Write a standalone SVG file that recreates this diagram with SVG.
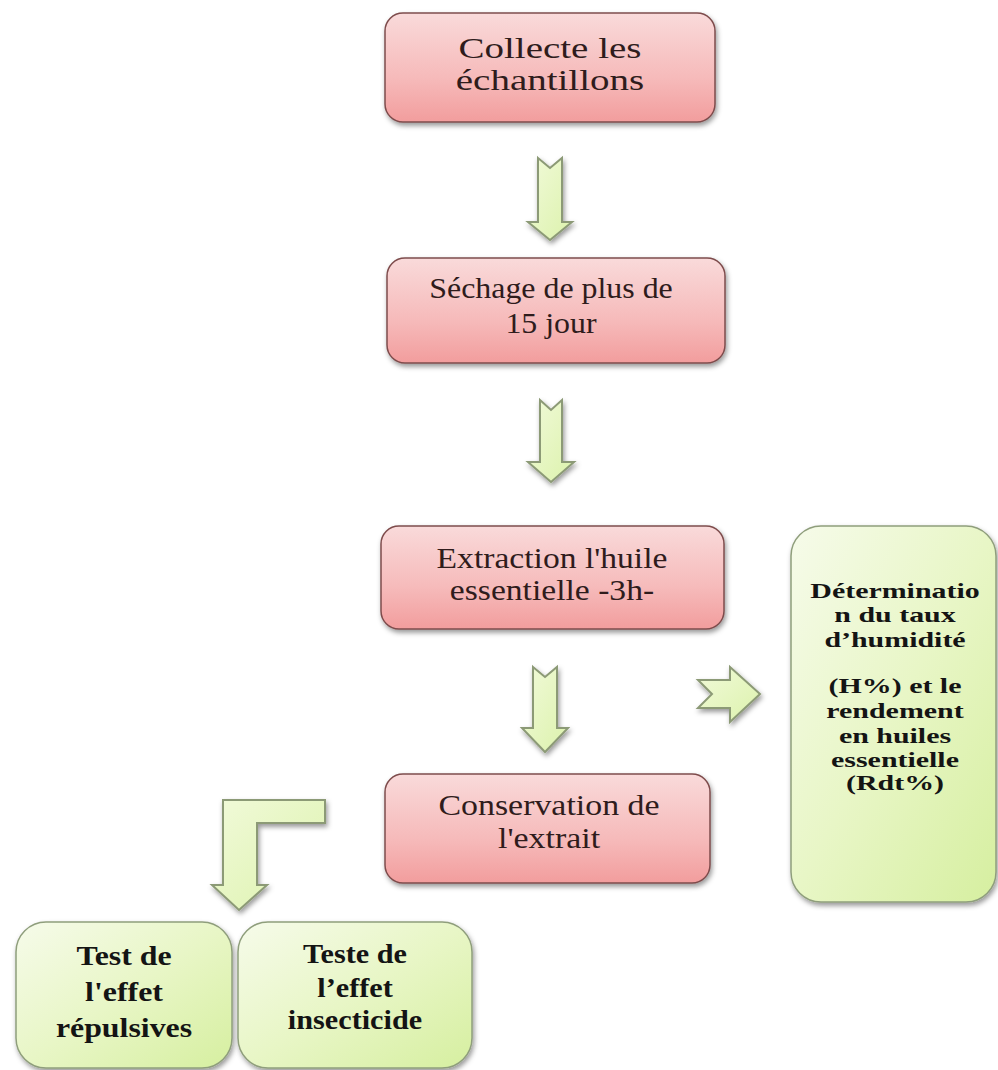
<svg xmlns="http://www.w3.org/2000/svg" width="998" height="1070" viewBox="0 0 998 1070">
<defs>
  <linearGradient id="redGrad" x1="0" y1="0" x2="0" y2="1">
    <stop offset="0" stop-color="#f9dada"/>
    <stop offset="0.6" stop-color="#f6baba"/>
    <stop offset="1" stop-color="#f29d9d"/>
  </linearGradient>
  <linearGradient id="greenGrad" x1="0" y1="0" x2="1" y2="1">
    <stop offset="0" stop-color="#f6fbea"/>
    <stop offset="0.5" stop-color="#e8f6c6"/>
    <stop offset="1" stop-color="#d6efa0"/>
  </linearGradient>
  <linearGradient id="arrowGrad" x1="0" y1="0" x2="1" y2="1">
    <stop offset="0" stop-color="#f1fad9"/>
    <stop offset="1" stop-color="#dcf2ac"/>
  </linearGradient>
  <filter id="shadow" x="-10%" y="-10%" width="130%" height="130%">
    <feDropShadow dx="1.5" dy="3" stdDeviation="2.5" flood-color="#000" flood-opacity="0.4"/>
  </filter>
  <style>
    .red { fill: url(#redGrad); stroke: #7e4c4c; stroke-width: 1.5; filter: url(#shadow); }
    .green { fill: url(#greenGrad); stroke: #8f9e7c; stroke-width: 1.5; filter: url(#shadow); }
    .arrow { fill: url(#arrowGrad); stroke: #8c9a76; stroke-width: 2; stroke-linejoin: miter; filter: url(#shadow); }
    .t { font-family: "Liberation Serif", "Times New Roman", serif; text-anchor: middle; fill: #2f1c1c; }
    .tr { font-size: 30px; }
    .tb { font-weight: bold; fill: #141414; }
  </style>
</defs>
<rect width="998" height="1070" fill="#ffffff"/>

<g id="connectors">
  <path class="arrow" d="M538,158 L550,168 L562,158 L562,222 L572,222 L550,240 L528,222 L538,222 Z"/>
  <path class="arrow" d="M540,400 L551,410 L562,400 L562,462 L574,462 L551,482 L528,462 L540,462 Z"/>
  <path class="arrow" d="M533,667 L545,677 L557,667 L557,728 L568,728 L545,752 L522,728 L533,728 Z"/>
  <path class="arrow" d="M698,680 L712,694 L698,708 L730,708 L730,722 L760,694 L730,667 L730,680 Z"/>
  <path class="arrow" d="M325,800 L325,823 L257,823 L257,885 L267,885 L239,910 L212,885 L223,885 L223,800 Z"/>
</g>

<g id="node-collecte">
  <rect class="red" x="385" y="13" width="330" height="109" rx="18"/>
  <g transform="translate(550,0) scale(1.3,1)">
    <text class="t tr" x="0" y="58">Collecte les</text>
    <text class="t tr" x="0" y="90">échantillons</text>
  </g>
</g>

<g id="node-sechage">
  <rect class="red" x="387" y="258" width="338" height="105" rx="18"/>
  <g transform="translate(551,0) scale(1.1,1)" font-size="29">
    <text class="t" x="0" y="298">Séchage de plus de</text>
    <text class="t" x="0" y="333">15 jour</text>
  </g>
</g>

<g id="node-extraction">
  <rect class="red" x="381" y="526" width="343" height="103" rx="18"/>
  <g transform="translate(552,0) scale(1.12,1)">
    <text class="t tr" x="0" y="568">Extraction l'huile</text>
    <text class="t tr" x="0" y="600">essentielle -3h-</text>
  </g>
</g>

<g id="node-conservation">
  <rect class="red" x="385" y="774" width="325" height="109" rx="18"/>
  <g transform="translate(549,0) scale(1.13,1)">
    <text class="t tr" x="0" y="815">Conservation de</text>
    <text class="t tr" x="0" y="848">l'extrait</text>
  </g>
</g>

<g id="node-determination">
  <rect class="green" x="791" y="526" width="205" height="376" rx="30"/>
  <g transform="translate(895,0) scale(1.36,1)" font-size="22">
    <text class="t tb" x="0" y="598">Déterminatio</text>
    <text class="t tb" x="0" y="622">n du taux</text>
    <text class="t tb" x="0" y="647">d’humidité</text>
    <text class="t tb" x="0" y="693">(H%) et le</text>
    <text class="t tb" x="0" y="718">rendement</text>
    <text class="t tb" x="0" y="743">en huiles</text>
    <text class="t tb" x="0" y="767">essentielle</text>
    <text class="t tb" x="0" y="790">(Rdt%)</text>
  </g>
</g>

<g id="node-repulsive">
  <rect class="green" x="16" y="922" width="216" height="146" rx="30"/>
  <g transform="translate(124,0) scale(1.18,1)" font-size="27">
    <text class="t tb" x="0" y="965">Test de</text>
    <text class="t tb" x="0" y="1001">l'effet</text>
    <text class="t tb" x="0" y="1037">répulsives</text>
  </g>
</g>

<g id="node-insecticide">
  <rect class="green" x="238" y="922" width="234" height="146" rx="30"/>
  <g transform="translate(355,0) scale(1.12,1)" font-size="27">
    <text class="t tb" x="0" y="963">Teste de</text>
    <text class="t tb" x="0" y="997">l’effet</text>
    <text class="t tb" x="0" y="1029">insecticide</text>
  </g>
</g>
</svg>
